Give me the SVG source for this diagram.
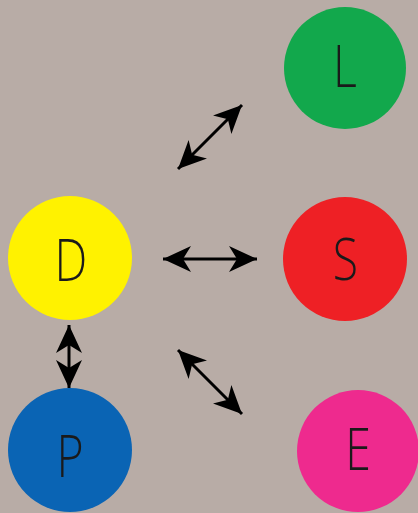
<svg xmlns="http://www.w3.org/2000/svg" width="418" height="513" viewBox="0 0 418 513">
<style>
.lbl{font-family:"Open Sans","Inter","Liberation Sans",sans-serif;font-weight:300;font-size:58px;fill:#1a1a1a;text-anchor:middle}
.con{stroke:#000;stroke-width:3;fill:none;marker-start:url(#ah);marker-end:url(#ah)}
</style>
<defs>
<marker id="ah" markerUnits="userSpaceOnUse" viewBox="-30 -15 32 30" refX="0" refY="0" markerWidth="32" markerHeight="30" orient="auto-start-reverse">
<path d="M0,0 L-28,-13 L-20,0 L-28,13 Z" fill="#000"/>
</marker>
</defs>
<rect width="418" height="513" fill="#b8aca6"/>
<g id="connectors">
<line class="con" x1="178" y1="169" x2="242" y2="105"/>
<line class="con" x1="163" y1="259" x2="257" y2="259"/>
<line class="con" x1="69" y1="325" x2="69" y2="388"/>
<line class="con" x1="178" y1="350" x2="242" y2="414"/>
</g>
<g id="node-L"><circle cx="345" cy="68" r="61" fill="#12a84c"/><text class="lbl" transform="translate(345 87) scale(0.8 1)">L</text></g>
<g id="node-D"><circle cx="70" cy="258" r="62" fill="#fff200"/><text class="lbl" transform="translate(71 281) scale(0.8 1)">D</text></g>
<g id="node-S"><circle cx="345" cy="259" r="62" fill="#ee2025"/><text class="lbl" transform="translate(345.5 280) scale(0.8 1)">S</text></g>
<g id="node-P"><circle cx="70" cy="450" r="62" fill="#0a64b4"/><text class="lbl" transform="translate(70 477) scale(0.8 1)">P</text></g>
<g id="node-E"><circle cx="358" cy="451" r="61" fill="#ee2a8e"/><text class="lbl" transform="translate(358 470) scale(0.8 1)">E</text></g>
</svg>
